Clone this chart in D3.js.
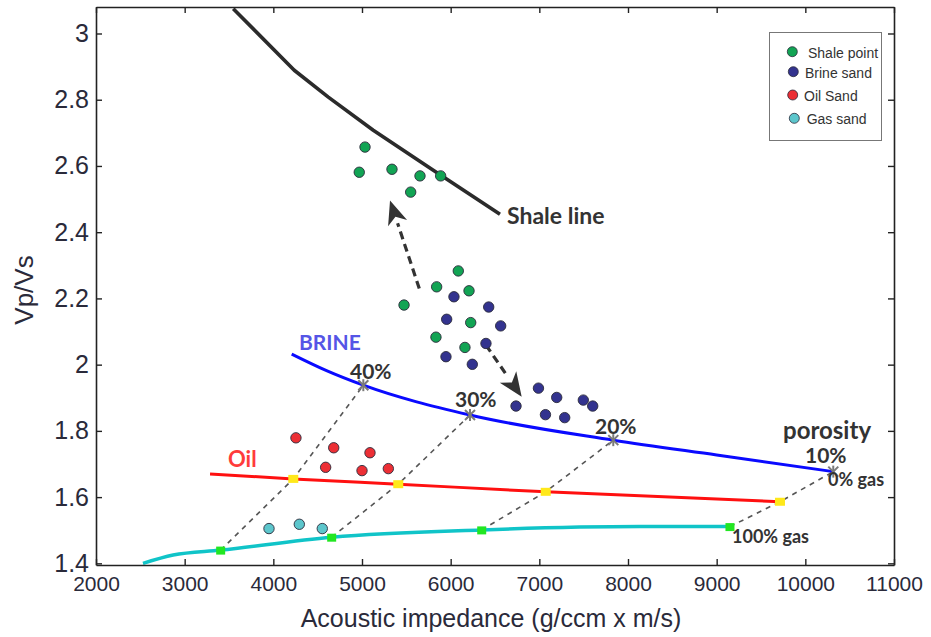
<!DOCTYPE html>
<html>
<head>
<meta charset="utf-8">
<script src="https://cdn.jsdelivr.net/npm/d3@7"></script>
<style>
  html, body { margin: 0; padding: 0; background: #fff; }
  svg { display: block; }
</style>
</head>
<body>
<svg id="chart" width="931" height="637"></svg>
<script>
// ---- Data: acoustic impedance (g/ccm x m/s) vs Vp/Vs ----
const xTicks = [2000, 3000, 4000, 5000, 6000, 7000, 8000, 9000, 10000, 11000];
const yTicks = [1.4, 1.6, 1.8, 2.0, 2.2, 2.4, 2.6, 2.8, 3.0];

const shalePoints = [
  [5034, 2.657], [4969, 2.581], [5338, 2.590], [5654, 2.570], [5887, 2.570], [5549, 2.521],
  [6086, 2.283], [5842, 2.235], [6207, 2.223], [5474, 2.180], [6226, 2.127], [5834, 2.083], [6161, 2.052]
];
const brinePoints = [
  [6037, 2.205], [6429, 2.174], [5955, 2.137], [6564, 2.117], [6398, 2.064], [5947, 2.024], [6244, 2.001],
  [6990, 1.929], [7196, 1.901], [6737, 1.875], [7496, 1.893], [7602, 1.875], [7069, 1.849], [7286, 1.840]
];
const oilPoints = [[4255, 1.779], [4681, 1.749], [5090, 1.734], [4590, 1.690], [5000, 1.680], [5297, 1.686]];
const gasPoints = [[3951, 1.505], [4293, 1.518], [4552, 1.505]];

const shaleLine = [[3548, 3.075], [4236, 2.889], [4620, 2.808], [5127, 2.708], [5804, 2.587], [6556, 2.454]];
const brineCurve = [[4207, 2.032], [4600, 1.982], [5015, 1.938], [6218, 1.848], [7834, 1.772], [9000, 1.727], [10315, 1.677]];
const oilCurve = [[3286, 1.670], [4225, 1.655], [5409, 1.639], [7072, 1.616], [9714, 1.586]];
const gasCurve = [[2530, 1.400], [2870, 1.425], [3406, 1.440], [4658, 1.479], [6350, 1.501], [8135, 1.511], [9150, 1.511]];

// Porosity tie lines: gas (100%) -> oil -> brine (0% gas)
const porosityLabels = ["40%", "30%", "20%", "10%"];
const porosityBrine = [[5015, 1.938], [6218, 1.848], [7834, 1.772], [10315, 1.677]];
const porosityOil = [[4225, 1.655], [5409, 1.639], [7072, 1.616], [9714, 1.586]];
const porosityGas = [[3406, 1.440], [4658, 1.479], [6350, 1.501], [9150, 1.511]];

// Trend arrows (start, tip)
const trendArrows = [
  [[5646, 2.230], [5316, 2.496]],
  [[6398, 2.059], [6801, 1.903]]
];

const legendItems = ["Shale point", "Brine sand", "Oil Sand", "Gas sand"];

// ---- Styles ----
const colors = { shale: "#12a454", brine: "#33338f", oil: "#ec2f35", gas: "#5cc6cc" };

const svg = d3.select("#chart");
const x = d3.scaleLinear().domain([2000, 11000]).range([96, 894]);
const y = d3.scaleLinear().domain([1.395, 3.08]).range([565, 7]);

svg.append("defs").append("clipPath").attr("id", "plot-clip")
  .append("rect").attr("x", 96).attr("y", 7).attr("width", 798).attr("height", 558);

const plot = svg.append("g").attr("clip-path", "url(#plot-clip)");
const line = d3.line().x(d => x(d[0])).y(d => y(d[1]));
const smooth = d3.line().x(d => x(d[0])).y(d => y(d[1])).curve(d3.curveMonotoneX);

// Porosity dashed tie lines
porosityGas.forEach((g, i) => {
  plot.append("path")
    .attr("d", line([g, porosityOil[i], porosityBrine[i]]))
    .attr("fill", "none").attr("stroke", "#555").attr("stroke-width", 1.6)
    .attr("stroke-dasharray", "5,5");
});

// Fluid curves
plot.append("path").attr("d", smooth(brineCurve)).attr("fill", "none")
  .attr("stroke", "#0a0aff").attr("stroke-width", 3);
plot.append("path").attr("d", smooth(oilCurve)).attr("fill", "none")
  .attr("stroke", "#ff1010").attr("stroke-width", 3);
plot.append("path").attr("d", smooth(gasCurve)).attr("fill", "none")
  .attr("stroke", "#10c4c8").attr("stroke-width", 3.5);

// Shale line
plot.append("path").attr("d", line(shaleLine)).attr("fill", "none")
  .attr("stroke", "#2b2b2b").attr("stroke-width", 3.6).attr("stroke-linejoin", "round");

// Markers on the curves
porosityOil.forEach(d => {
  plot.append("rect").attr("x", x(d[0]) - 5).attr("y", y(d[1]) - 4)
    .attr("width", 10).attr("height", 8).attr("fill", "#ffe81a");
});
porosityGas.forEach(d => {
  plot.append("rect").attr("x", x(d[0]) - 4.5).attr("y", y(d[1]) - 3.5)
    .attr("width", 9).attr("height", 8).attr("fill", "#22e622");
});
porosityBrine.forEach(d => {
  const cx = x(d[0]), cy = y(d[1]);
  const g = plot.append("g").attr("stroke", "#7a7a7a").attr("stroke-width", 2);
  g.append("line").attr("x1", cx - 5).attr("y1", cy - 5).attr("x2", cx + 5).attr("y2", cy + 5);
  g.append("line").attr("x1", cx - 5).attr("y1", cy + 5).attr("x2", cx + 5).attr("y2", cy - 5);
  g.append("line").attr("x1", cx).attr("y1", cy - 6).attr("x2", cx).attr("y2", cy + 6);
});

// Trend arrows
trendArrows.forEach(([s, t]) => {
  const x0 = x(s[0]), y0 = y(s[1]), x1 = x(t[0]), y1 = y(t[1]);
  const ang = Math.atan2(y1 - y0, x1 - x0);
  const L = 24, W = 10;
  const bx = x1 - L * Math.cos(ang), by = y1 - L * Math.sin(ang);
  plot.append("line").attr("x1", x0).attr("y1", y0).attr("x2", bx).attr("y2", by)
    .attr("stroke", "#333").attr("stroke-width", 3.2).attr("stroke-dasharray", "8,5");
  const px = -Math.sin(ang), py = Math.cos(ang);
  plot.append("path")
    .attr("d", `M${x1},${y1}L${bx + W * px},${by + W * py}L${x1 - 0.72 * L * Math.cos(ang)},${y1 - 0.72 * L * Math.sin(ang)}L${bx - W * px},${by - W * py}Z`)
    .attr("fill", "#333");
});

// Scatter points
function dots(data, color) {
  plot.append("g").selectAll("circle").data(data).join("circle")
    .attr("cx", d => x(d[0])).attr("cy", d => y(d[1])).attr("r", 5.2)
    .attr("fill", color).attr("stroke", "#2a2a3a").attr("stroke-width", 0.9);
}
dots(shalePoints, colors.shale);
dots(brinePoints, colors.brine);
dots(oilPoints, colors.oil);
dots(gasPoints, colors.gas);

// ---- Axes (box with inward ticks) ----
const axisFont = "'Liberation Sans', Arial, sans-serif";
const gx = svg.append("g").attr("transform", "translate(0,565)")
  .call(d3.axisBottom(x).tickValues(xTicks).tickFormat(d3.format("d"))
    .tickSizeInner(-6).tickSizeOuter(0).tickPadding(11));
const gy = svg.append("g").attr("transform", "translate(96,0)")
  .call(d3.axisLeft(y).tickValues(yTicks).tickFormat(d => d === 2 ? "2" : (d === 3 ? "3" : d3.format(".1f")(d)))
    .tickSizeInner(-6).tickSizeOuter(0).tickPadding(7));
const gt = svg.append("g").attr("transform", "translate(0,7)")
  .call(d3.axisTop(x).tickValues(xTicks).tickFormat("").tickSizeInner(-6).tickSizeOuter(0));
const gr = svg.append("g").attr("transform", "translate(894,0)")
  .call(d3.axisRight(y).tickValues(yTicks).tickFormat("").tickSizeInner(-6).tickSizeOuter(0));

[gx, gy, gt, gr].forEach(g => {
  g.select(".domain").attr("stroke", "#222").attr("stroke-width", 1.6);
  g.selectAll(".tick line").attr("stroke", "#222").attr("stroke-width", 1.4);
  g.selectAll("text").attr("fill", "#2a2a3a").style("font-family", axisFont);
});
gx.selectAll("text").style("font-size", "21px");
gy.selectAll("text").style("font-size", "25px");

svg.append("text").attr("x", 491).attr("y", 627).attr("text-anchor", "middle")
  .style("font-family", axisFont).style("font-size", "25px").attr("fill", "#2a2a3a")
  .text("Acoustic impedance (g/ccm x m/s)");
svg.append("text").attr("transform", "translate(33,290) rotate(-90)").attr("text-anchor", "middle")
  .style("font-family", axisFont).style("font-size", "26px").attr("fill", "#2a2a3a")
  .text("Vp/Vs");

// ---- Annotations ----
const noteFont = "Lato, 'Open Sans', sans-serif";
function note(txt, px, py, size, color, anchor) {
  svg.append("text").attr("x", px).attr("y", py).attr("text-anchor", anchor || "start")
    .style("font-family", noteFont).style("font-weight", "bold").style("font-size", size + "px")
    .attr("fill", color).text(txt);
}
note("Shale line", 507, 224, 23, "#333");
note("BRINE", 299, 350, 21, "#5555e6");
note("Oil", 228, 467, 22, "#ff3b3b");
const porosityLabelPos = [[350, 379], [455, 407], [595, 434], [805, 463]];
porosityLabels.forEach((t, i) => note(t, porosityLabelPos[i][0], porosityLabelPos[i][1], 21, "#333"));
note("porosity", 783, 439, 24, "#333");
note("0% gas", 828, 486, 18, "#333");
note("100% gas", 732, 543, 18, "#333");

// ---- Legend ----
const legend = svg.append("g");
legend.append("rect").attr("x", 769.5).attr("y", 32.5).attr("width", 112).attr("height", 108)
  .attr("fill", "#fff").attr("stroke", "#777").attr("stroke-width", 1);
const legendColors = [colors.shale, colors.brine, colors.oil, colors.gas];
const legendRows = [[792.3, 51.7, 808], [793.3, 71.7, 805], [792.7, 95, 804], [794.3, 118.3, 806.7]];
legendItems.forEach((t, i) => {
  const [cx, cy, tx] = legendRows[i];
  legend.append("circle").attr("cx", cx).attr("cy", cy).attr("r", 5)
    .attr("fill", legendColors[i]).attr("stroke", "#2a2a3a").attr("stroke-width", 0.8);
  legend.append("text").attr("x", tx).attr("y", cy + 6).style("font-family", axisFont)
    .style("font-size", "14px").attr("fill", "#333").text(t);
});
</script>
</body>
</html>
